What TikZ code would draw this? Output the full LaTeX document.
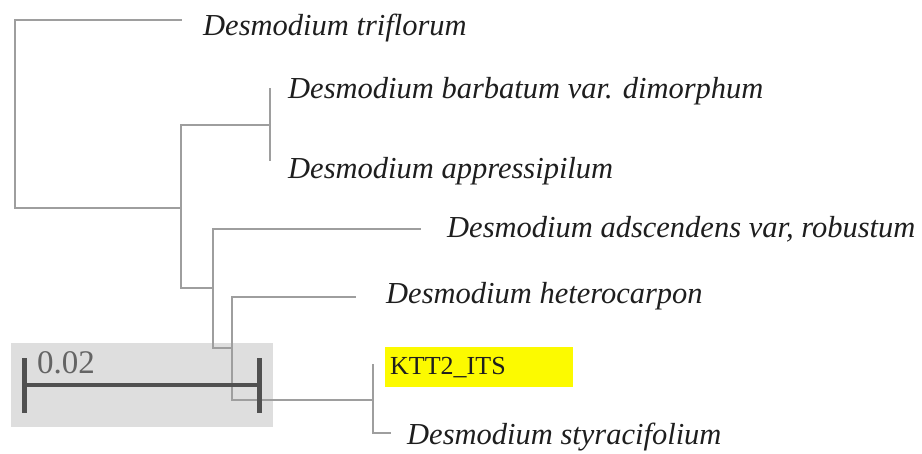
\documentclass[tikz,border=0pt]{standalone}
\usepackage{fontspec}
\setmainfont{Liberation Serif}
\definecolor{branchgray}{RGB}{158,158,158}
\definecolor{boxgray}{RGB}{222,222,222}
\definecolor{bargray}{RGB}{80,80,80}
\definecolor{numgray}{RGB}{100,100,100}
\definecolor{hlyellow}{RGB}{252,250,0}
\definecolor{txt}{RGB}{30,30,30}
\begin{document}
\begin{tikzpicture}[x=1pt,y=-1pt,
  branch/.style={draw=branchgray,line width=2.3pt,line cap=rect},
  taxon/.style={anchor=base west,inner sep=0pt,text=txt,font=\fontsize{30.5}{36}\selectfont\itshape},
  barline/.style={draw=bargray,line width=4pt},
  bartick/.style={draw=bargray,line width=5pt}]
\useasboundingbox (0,0) rectangle (922,453);
% scale box
\node[fill=boxgray,anchor=north west,minimum width=262pt,minimum height=84pt,inner sep=0pt] (sbox) at (11,343) {};
% internal nodes
\coordinate (R) at (15,114);
\coordinate (A) at (181,208);
\coordinate (B) at (270,125);
\coordinate (C) at (213,288);
\coordinate (D) at (232,348);
\coordinate (E) at (373,400);
% leaf tips
\coordinate (t1) at (181,20);
\coordinate (t2) at (270,89);
\coordinate (t3) at (270,160);
\coordinate (t4) at (420,229);
\coordinate (t5) at (355,297);
\coordinate (t6) at (373,365);
\coordinate (t7) at (390,433);
% branches
\draw[branch] (R) |- (t1);
\draw[branch] (R) |- (A);
\draw[branch] (A) |- (B);
\draw[branch] (A) |- (C);
\draw[branch] (B) |- (t2);
\draw[branch] (B) |- (t3);
\draw[branch] (C) |- (t4);
\draw[branch] (C) |- (D);
\draw[branch] (D) |- (t5);
\draw[branch] (D) |- (E);
\draw[branch] (E) |- (t6);
\draw[branch] (E) |- (t7);
% labels
\node[taxon] (l1) at (203,35) {Desmodium triflorum};
\node[taxon] (l2) at (288,98) {Desmodium barbatum var. dimorphum};
\node[taxon] (l3) at (288,178) {Desmodium appressipilum};
\node[taxon] (l4) at (447,237) {Desmodium adscendens var, robustum};
\node[taxon] (l5) at (386,303) {Desmodium heterocarpon};
\node[fill=hlyellow,anchor=north west,minimum height=40pt,text width=178pt,inner xsep=5pt,inner ysep=0pt,align=left,text=txt,font=\fontsize{26}{30}\selectfont] (l6) at (385,347) {KTT2\_ITS};
\node[taxon] (l7) at (407,444) {Desmodium styracifolium};
% scale bar
\coordinate (s1) at (24,385);
\coordinate (s2) at (259,385);
\coordinate (s1t) at (24,358);
\coordinate (s1b) at (24,413);
\coordinate (s2t) at (259,358);
\coordinate (s2b) at (259,413);
\draw[barline] (s1) -- (s2);
\draw[bartick] (s1t) -- (s1b);
\draw[bartick] (s2t) -- (s2b);
\node[anchor=base west,inner sep=0pt,text=numgray,font=\fontsize{33}{36}\selectfont] (sl) at (37,373) {0.02};
\end{tikzpicture}
\end{document}
